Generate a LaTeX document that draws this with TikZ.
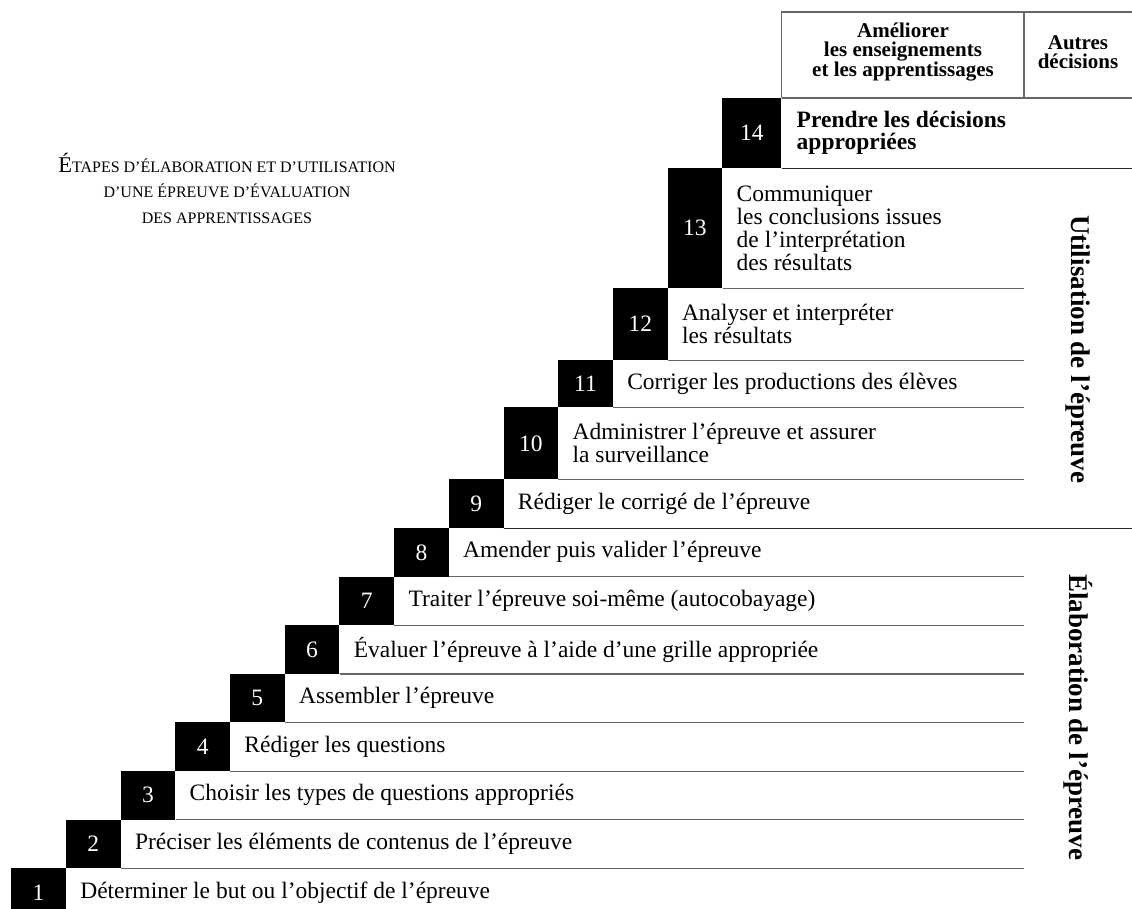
\documentclass[tikz,border=0pt]{standalone}
\usepackage{fontspec}
\setmainfont{Liberation Serif}
\usetikzlibrary{positioning}

\begin{document}
\begin{tikzpicture}[x=1pt,y=-1pt,
  stepbox/.style={fill=black,text=white,anchor=north west,inner sep=0pt,minimum width=54.7pt,minimum height=#1,font=\fontsize{23.5}{23.5}\selectfont},
  steptext/.style={anchor=west,align=left,inner sep=0pt,font=\fontsize{23.5}{22.8}\selectfont},
  rowline/.style={draw=black!60,line width=1.2pt},
  sepline/.style={draw=black!85,line width=1.3pt},
  headtext/.style={align=center,inner sep=0pt,font=\bfseries\fontsize{21}{19}\selectfont},
  sidetext/.style={rotate=-90,inner sep=0pt,font=\bfseries\fontsize{27}{27}\selectfont}
]
  \clip (0,0) rectangle (1132,909);

  % step boxes : number / top / height
  \foreach \n/\top/\h in {1/868/48.6,2/819.4/48.6,3/770.8/48.6,4/722.2/48.6,5/673.6/48.6,
                          6/625/48.6,7/576.4/48.6,8/527.8/48.6,9/479.2/48.6,
                          10/407/72.2,11/360/47,12/288/72,13/168/120} {
    \node[stepbox=\h pt] (s\n) at ({11+(\n-1)*54.7},\top) {\n};
  }
  \node[stepbox=70pt, minimum width=59pt] (s14) at (722.1,98) {14};

  \coordinate (endA) at (1024,0);
  \coordinate (endB) at (1132,0);

  % lines under the rows
  \foreach \n in {2,3,4,5,6,7,8,10,11,12,13} {
    \draw[rowline] (s\n.south east) -- (s\n.south east -| endA);
  }
  \draw[sepline] (s9.south east) -- (s9.south east -| endB);
  \draw[sepline] (s14.south east) -- (s14.south east -| endB);

  % row texts
  \foreach \n/\txt in {1/{Déterminer le but ou l’objectif de l’épreuve},
                       2/{Préciser les éléments de contenus de l’épreuve},
                       3/{Choisir les types de questions appropriés},
                       4/{Rédiger les questions},
                       5/{Assembler l’épreuve},
                       6/{Évaluer l’épreuve à l’aide d’une grille appropriée},
                       7/{Traiter l’épreuve soi-même (autocobayage)},
                       8/{Amender puis valider l’épreuve},
                       9/{Rédiger le corrigé de l’épreuve},
                       10/{Administrer l’épreuve et assurer\\la surveillance},
                       11/{Corriger les productions des élèves},
                       12/{Analyser et interpréter\\les résultats},
                       13/{Communiquer\\les conclusions issues\\de l’interprétation\\des résultats}} {
    \node[steptext, right=14pt of s\n] (t\n) {\txt};
  }
  \node[steptext, right=15pt of s14, font=\bfseries\fontsize{23.5}{22}\selectfont] (t14) {Prendre les décisions\\appropriées};

  % decision table
  \coordinate (topA) at (s14.north east |- 0,12);
  \draw[rowline] (s14.north east) -- (topA) -- (topA -| endB);
  \draw[rowline] (topA -| endA) -- (s14.north east -| endA);
  \draw[rowline] (s14.north east) -- (s14.north east -| endB);
  \node[headtext] (ameliorer) at (903,52) {Améliorer\\les enseignements\\et les apprentissages};
  \node[headtext] (autres) at (1078,52) {Autres\\décisions};

  % side labels
  \node[sidetext] (utilisation) at (1078,349) {Utilisation de l’épreuve};
  \node[sidetext] (elaboration) at (1078,717) {Élaboration de l’épreuve};

  % title
  \node[align=center,inner sep=0pt,font=\fontsize{16}{25.5}\selectfont] (title) at (227,188)
    {{\fontsize{22.5}{25.5}\selectfont É}TAPES D’ÉLABORATION ET D’UTILISATION\\D’UNE ÉPREUVE D’ÉVALUATION\\DES APPRENTISSAGES};
\end{tikzpicture}
\end{document}
